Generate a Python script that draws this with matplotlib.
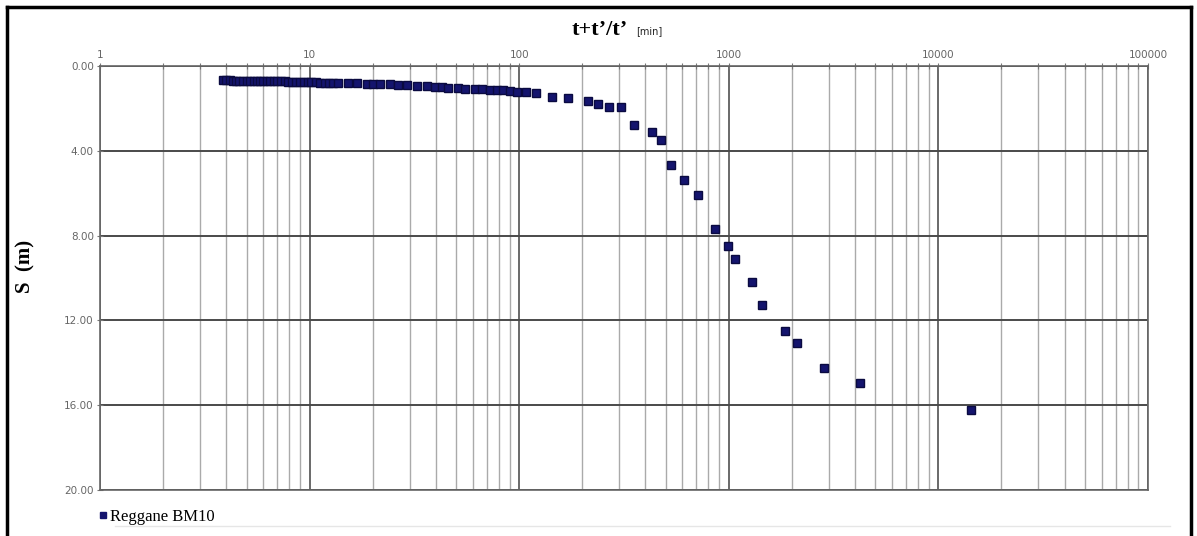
import matplotlib
matplotlib.use('Agg')
import matplotlib.pyplot as plt
from matplotlib.lines import Line2D
from matplotlib.ticker import LogLocator, NullFormatter, FixedLocator

# données de remontée : t+t'/t' (min) et rabattement S (m)
t_vals = [3.85, 4.0, 4.15, 4.3, 4.45, 4.6, 4.8, 5.0, 5.2, 5.4, 5.6, 5.8,
          6.0, 6.25, 6.5, 6.75, 7.0, 7.3, 7.6, 7.9, 8.2, 8.6, 9.0, 9.4,
          9.8, 10.2, 10.7, 11.2, 11.8, 12.4, 13.0, 13.7,
          15.28, 16.86, 18.82, 20.10, 21.70, 24.23, 26.45, 29.20, 32.60,
          36.38, 39.72, 42.90, 45.83, 51.14, 55.24, 61.66, 66.58, 72.70,
          78.52, 83.87, 90.57, 97.84, 108.0, 120.5, 143.7, 171.4, 213.5,
          238.3, 268.9, 306.9, 354, 431, 476, 532, 614, 715, 863, 995,
          1075, 1295, 1445, 1861, 2124, 2858, 4247, 14380]
s_vals = [0.68, 0.68, 0.68, 0.69, 0.69, 0.69, 0.69, 0.70, 0.70, 0.70, 0.70, 0.70,
          0.70, 0.70, 0.71, 0.71, 0.71, 0.71, 0.72, 0.74, 0.75, 0.75, 0.76, 0.76,
          0.76, 0.77, 0.77, 0.78, 0.78, 0.78, 0.79, 0.79,
          0.80, 0.82, 0.83, 0.85, 0.85, 0.87, 0.88, 0.90, 0.92,
          0.95, 0.98, 1.01, 1.03, 1.05, 1.07, 1.09, 1.09, 1.11,
          1.13, 1.15, 1.18, 1.22, 1.24, 1.28, 1.45, 1.51, 1.63,
          1.77, 1.94, 1.95, 2.76, 3.11, 3.51, 4.65, 5.40, 6.10, 7.71, 8.50,
          9.11, 10.18, 11.25, 12.48, 13.05, 14.23, 14.94, 16.22]

x_ticks = [1, 10, 100, 1000, 10000, 100000]
x_labels = ['1', '10', '100', '1000', '10000', '100000']
y_ticks = [0, 4, 8, 12, 16, 20]
y_labels = ['0.00', '4.00', '8.00', '12.00', '16.00', '20.00']
serie = 'Reggane BM10'

fig = plt.figure(figsize=(11.97, 5.36), dpi=100)
ax = fig.add_axes([100 / 1197, 1 - 490 / 536, 1048 / 1197, 424 / 536])

ax.plot(t_vals, s_vals, linestyle='none', marker='s', markersize=5.2,
        color='#14146e', markeredgecolor='#0a0a40', label=serie, zorder=3)

ax.set_xscale('log')
ax.set_xlim(1, 100000)
ax.set_ylim(20, 0)

ax.xaxis.set_major_locator(FixedLocator(x_ticks))
ax.set_xticklabels(x_labels)
ax.xaxis.set_minor_locator(LogLocator(base=10, subs=range(2, 10)))
ax.xaxis.set_minor_formatter(NullFormatter())
ax.set_yticks(y_ticks)
ax.set_yticklabels(y_labels)

ax.xaxis.tick_top()
ax.tick_params(axis='x', which='both', top=True, bottom=False, direction='inout',
               length=5, width=0.8, color='#777777', labelsize=7.5,
               labelcolor='#666666', pad=2)
ax.tick_params(axis='y', direction='inout', length=5, width=0.8, color='#777777',
               labelsize=7.5, labelcolor='#666666', pad=2)

ax.grid(True, which='major', axis='x', color='#505050', linewidth=1.2)
ax.grid(True, which='minor', axis='x', color='#aaaaaa', linewidth=1.0)
ax.grid(True, which='major', axis='y', color='#4a4a4a', linewidth=1.4)

for side in ['left', 'right', 'top', 'bottom']:
    ax.spines[side].set_color('#666666')
    ax.spines[side].set_linewidth(1.2)

# titre d'axe en haut
fig.text(600 / 1197, 1 - 30 / 536, 't+t\u2019/t\u2019', ha='center', va='center',
         fontsize=16, fontweight='bold', family='Liberation Serif')
fig.text(636 / 1197, 1 - 31 / 536, '[min]', ha='left', va='center',
         fontsize=7, family='DejaVu Sans', color='#222222')

fig.text(25 / 1197, 1 - 266 / 536, 'S  (m)', rotation=90, ha='center', va='center',
         fontsize=15, fontweight='bold', family='Liberation Serif')

# légende
fig.legend(handles=[Line2D([], [], linestyle='none', marker='s', markersize=4,
                           color='#14146e')],
           labels=[serie], loc='center left', bbox_to_anchor=(88 / 1197, 1 - 517 / 536),
           frameon=False, handletextpad=0.0, handlelength=0.8, borderpad=0,
           prop={'family': 'Liberation Serif', 'size': 12})

# cadre extérieur
fig.add_artist(Line2D([7 / 1197, 7 / 1197], [0, 1 - 7 / 536], transform=fig.transFigure,
                      color='black', linewidth=2.5))
fig.add_artist(Line2D([7 / 1197, 1191 / 1197], [1 - 7 / 536, 1 - 7 / 536],
                      transform=fig.transFigure, color='black', linewidth=2.5))
fig.add_artist(Line2D([1191 / 1197, 1191 / 1197], [0, 1 - 7 / 536], transform=fig.transFigure,
                      color='black', linewidth=2.5))
fig.add_artist(Line2D([115 / 1197, 1170 / 1197], [1 - 526 / 536, 1 - 526 / 536],
                      transform=fig.transFigure, color='#e6e6e6', linewidth=1))

fig.savefig('out.png', dpi=100)
